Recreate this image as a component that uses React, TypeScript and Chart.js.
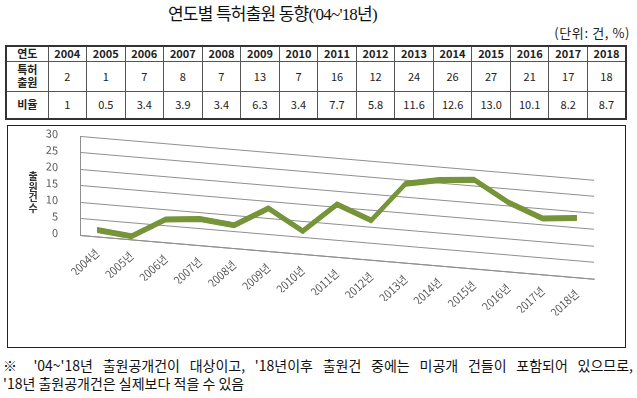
import React, { useEffect, useRef } from 'react';
import { Chart, registerables } from 'chart.js';

Chart.register(...registerables);

// ---- data ----
const years = ['2004', '2005', '2006', '2007', '2008', '2009', '2010', '2011', '2012', '2013', '2014', '2015', '2016', '2017', '2018'];
const xLabels = ['2004년', '2005년', '2006년', '2007년', '2008년', '2009년', '2010년', '2011년', '2012년', '2013년', '2014년', '2015년', '2016년', '2017년', '2018년'];
const applications = [2, 1, 7, 8, 7, 13, 7, 16, 12, 24, 26, 27, 21, 17, 18];
const ratios = ['1', '0.5', '3.4', '3.9', '3.4', '6.3', '3.4', '7.7', '5.8', '11.6', '12.6', '13.0', '10.1', '8.2', '8.7'];
const yMin = 0;
const yMax = 30;
const yStep = 5;

const titleText = "연도별 특허출원 동향('04~'18년)";
const unitText = '(단위: 건, %)';
const yAxisTitle = ['출', '원', '건', '수'];
const note1 = "※ '04~'18년 출원공개건이 대상이고, '18년이후 출원건 중에는 미공개 건들이 포함되어 있으므로,";
const note2 = "'18년 출원공개건은 실제보다 적을 수 있음";

const KR = "'Noto Sans CJK KR', 'Noto Sans', sans-serif";
const SKEW = 0.085;
const LINE_COLOR = '#77953A';

const skewPlugin = {
  id: 'skew3d',
  beforeDraw(chart: any) {
    const ctx = chart.ctx;
    const x0 = chart.chartArea.left;
    ctx.save();
    ctx.transform(1, SKEW, 0, 1, 0, -SKEW * x0);
  },
  afterDatasetsDraw(chart: any) {
    const ctx = chart.ctx;
    const meta = chart.getDatasetMeta(0);
    if (!meta || !meta.dataset) return;
    for (let dy = -2; dy <= 2.5; dy += 0.5) {
      if (dy === 0) continue;
      ctx.save();
      ctx.translate(0, dy);
      meta.dataset.draw(ctx, chart.chartArea);
      ctx.restore();
    }
  },
  afterDraw(chart: any) {
    chart.ctx.restore();
  },
};

function LineChart() {
  const ref = useRef<HTMLCanvasElement | null>(null);
  useEffect(() => {
    if (!ref.current) return;
    const chart = new Chart(ref.current, {
      type: 'line',
      data: {
        labels: xLabels,
        datasets: [
          {
            label: '특허출원',
            data: applications,
            borderColor: LINE_COLOR,
            backgroundColor: LINE_COLOR,
            borderWidth: 1.5,
            pointRadius: 0,
            tension: 0,
            clip: false as any,
          },
        ],
      },
      options: {
        responsive: false,
        animation: false,
        layout: { padding: { left: 0, right: 31, top: 10, bottom: 72 } },
        plugins: {
          legend: { display: false },
          tooltip: { enabled: false },
          title: { display: false },
        },
        scales: {
          x: {
            offset: true,
            grid: { display: false, drawTicks: false },
            border: { display: true, color: '#8f8f8f', width: 1 },
            ticks: {
              minRotation: 45,
              maxRotation: 45,
              autoSkip: false,
              padding: 10,
              color: '#595959',
              font: { family: KR, size: 11 },
            },
            afterFit: (s: any) => {
              s.height = 40;
            },
          },
          y: {
            min: yMin,
            max: yMax,
            grid: { color: '#8f8f8f', lineWidth: 1, drawTicks: false },
            border: { display: true, color: '#8f8f8f', width: 1 },
            ticks: {
              stepSize: yStep,
              autoSkip: false,
              maxTicksLimit: 20,
              padding: 22,
              color: '#595959',
              font: { family: KR, size: 11, lineHeight: 1 },
            },
            afterFit: (s: any) => {
              s.width = 72;
              s.paddingTop = 6;
              s.paddingBottom = 6;
            },
          },
        },
      },
      plugins: [skewPlugin],
    });
    return () => chart.destroy();
  }, []);
  return <canvas ref={ref} width={617} height={221} style={{ position: 'absolute', left: 0, top: 0, width: 617, height: 221 }} />;
}

const cell: React.CSSProperties = {
  border: '1px solid #555',
  textAlign: 'center',
  padding: 0,
  lineHeight: '13px',
};

export default function App() {
  return (
    <div style={{ position: 'absolute', left: 0, top: 0, width: 637, height: 398, background: '#fff', overflow: 'hidden', fontFamily: KR, color: '#111' }}>
      <div style={{ position: 'absolute', left: 168, top: 3, fontSize: 17, lineHeight: '24px', letterSpacing: -0.8, fontFamily: "'Liberation Serif', 'Noto Sans CJK KR', serif", whiteSpace: 'nowrap', color: '#111' }}>
        {titleText}
      </div>
      <div style={{ position: 'absolute', right: 7, top: 25, fontSize: 13, lineHeight: '16px', letterSpacing: 0.6, whiteSpace: 'nowrap', color: '#222' }}>{unitText}</div>

      <table style={{ position: 'absolute', left: 5, top: 45, width: 622, borderCollapse: 'collapse', tableLayout: 'fixed', border: '2px solid #333', fontSize: 11, fontFamily: KR, color: '#222' }}>
        <colgroup>
          <col style={{ width: 42 }} />
          {years.map((y) => (
            <col key={y} />
          ))}
        </colgroup>
        <tbody>
          <tr style={{ height: 15 }}>
            <td style={{ ...cell, fontWeight: 'bold' }}>연도</td>
            {years.map((y) => (
              <td key={y} style={{ ...cell, fontWeight: 'bold' }}>{y}</td>
            ))}
          </tr>
          <tr style={{ height: 30 }}>
            <td style={{ ...cell, fontWeight: 'bold' }}>특허<br />출원</td>
            {applications.map((v, i) => (
              <td key={i} style={cell}>{v}</td>
            ))}
          </tr>
          <tr style={{ height: 28 }}>
            <td style={{ ...cell, fontWeight: 'bold' }}>비율</td>
            {ratios.map((v, i) => (
              <td key={i} style={cell}>{v}</td>
            ))}
          </tr>
        </tbody>
      </table>

      <div style={{ position: 'absolute', left: 7, top: 125, width: 619, height: 223, boxSizing: 'border-box', border: '1px solid #222', background: '#fff' }}>
        <LineChart />
        <div style={{ position: 'absolute', left: 19, top: 45, fontSize: 10, lineHeight: '10.5px', fontWeight: 'bold', color: '#333', textAlign: 'center', width: 12 }}>
          {yAxisTitle.map((c, i) => (
            <div key={i}>{c}</div>
          ))}
        </div>
      </div>

      <div style={{ position: 'absolute', left: 3, top: 357, width: 630, fontSize: 14, lineHeight: '16px', textAlign: 'justify', textAlignLast: 'justify' as any, whiteSpace: 'nowrap', color: '#111' }}>
        {note1}
      </div>
      <div style={{ position: 'absolute', left: 3, top: 375, fontSize: 14, lineHeight: '16px', whiteSpace: 'nowrap', color: '#111' }}>{note2}</div>
    </div>
  );
}
